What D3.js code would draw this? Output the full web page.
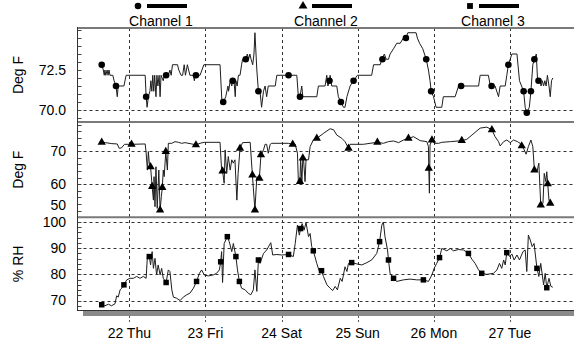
<!DOCTYPE html>
<html>
<head>
<meta charset="utf-8">
<script src="https://cdn.jsdelivr.net/npm/d3@7"></script>
<style>
  html, body { margin: 0; padding: 0; background: #fff; }
  svg { display: block; font-family: "Liberation Sans", Arial, sans-serif; }
</style>
</head>
<body>
<svg id="chart" width="574" height="345"></svg>
<script>
// Logger readings, time given in hours from 21 Oct 2009 00:00 (UTC)
const channels = ["Channel 1", "Channel 2", "Channel 3"];
const dayTicks = ["2009-10-22", "2009-10-23", "2009-10-24", "2009-10-25", "2009-10-26", "2009-10-27"];

// Channel 1: temperature, Deg F
const ch1Line = [[15.3,72.83],[15.8,72.5],[16.1,72.17],[16.3,72.5],[16.6,72.17],[17.0,72.5],[17.3,72.17],[17.6,72.5],[17.9,72.17],[18.8,72.17],[19.2,71.83],[19.8,71.5],[20.2,70.83],[20.5,71.5],[22.3,71.5],[23.0,72.17],[29.0,72.17],[29.3,70.83],[29.6,70.17],[30.0,70.83],[30.5,71.17],[30.8,71.83],[31.1,71.17],[31.4,72.17],[31.7,71.17],[32.0,72.17],[32.4,70.83],[32.7,72.17],[33.0,71.5],[33.4,72.17],[33.7,70.83],[34.0,72.17],[34.7,71.83],[35.0,72.17],[35.6,72.17],[36.3,72.17],[36.8,72.5],[37.2,72.17],[37.6,72.83],[38.4,72.83],[39.2,72.83],[39.6,72.5],[40.3,72.17],[40.8,72.17],[41.3,72.83],[41.7,72.17],[42.3,72.83],[42.7,72.5],[43.1,72.17],[44.2,72.17],[44.5,71.83],[44.8,72.17],[46.3,72.17],[47.5,72.83],[52.6,72.83],[53.2,70.5],[53.7,70.5],[54.4,70.83],[55.1,71.5],[55.3,71.17],[55.8,71.83],[56.3,71.5],[56.6,71.83],[57.0,71.83],[57.4,70.83],[57.6,71.83],[58.0,71.5],[58.4,72.17],[58.9,72.17],[59.4,72.83],[59.7,73.17],[60.7,73.17],[61.2,73.5],[61.6,73.17],[62.0,73.5],[62.4,73.17],[62.9,72.83],[63.3,73.5],[63.6,74.83],[64.2,72.5],[64.7,71.17],[65.2,71.17],[65.7,70.17],[66.3,71.17],[66.8,71.5],[67.3,70.83],[67.8,71.5],[70.0,71.5],[70.5,72.17],[76.8,72.17],[77.3,70.83],[77.8,70.83],[78.36,71.5],[78.7,70.83],[83.1,70.83],[83.6,71.5],[85.7,71.5],[86.25,72.17],[86.6,71.5],[87.1,71.83],[87.3,72.17],[87.8,71.5],[89.4,71.5],[89.9,70.83],[90.7,70.5],[91.5,70.17],[92.0,70.17],[92.6,70.83],[93.6,71.5],[94.7,71.83],[95.9,72.17],[100.4,72.17],[101.0,72.83],[103.1,72.83],[103.6,73.17],[104.4,73.5],[105.0,73.17],[105.7,73.17],[106.2,73.5],[107.3,73.83],[108.3,74.17],[109.4,74.17],[110.4,74.5],[111.2,74.5],[111.8,74.83],[114.4,74.83],[114.8,74.5],[115.5,74.17],[116.5,73.83],[117.6,73.17],[118.3,72.5],[118.8,71.83],[119.15,71.17],[119.9,70.83],[120.7,70.17],[122.5,70.17],[123.0,70.83],[126.7,70.83],[127.8,71.5],[134.1,71.5],[134.6,72.17],[137.2,72.17],[137.8,71.5],[139.3,71.5],[140.4,70.83],[140.9,71.5],[142.5,71.5],[143.0,72.17],[143.5,72.83],[144.6,73.5],[146.2,73.5],[147.0,71.83],[148.3,71.17],[148.8,70.17],[149.3,69.83],[150.1,70.17],[150.6,71.17],[151.2,72.83],[151.7,73.17],[152.3,73.5],[152.7,71.83],[153.0,71.83],[153.5,71.83],[153.8,71.5],[154.2,71.83],[154.6,71.5],[155.0,71.83],[155.4,71.5],[155.8,72.17],[156.3,71.5],[156.7,70.83],[157.1,71.83],[157.5,72.0]];
const ch1Marks = [[15.3,72.83],[19.8,71.5],[29.3,70.83],[35.6,72.17],[45.0,72.17],[53.6,70.5],[56.6,71.83],[60.7,73.17],[64.7,71.17],[74.2,72.17],[77.8,70.83],[87.1,71.83],[90.7,70.5],[94.7,71.83],[103.8,73.17],[111.2,74.5],[117.6,73.17],[119.15,71.17],[128.6,71.5],[138.2,71.5],[143.5,72.83],[148.3,71.17],[149.3,69.83],[150.6,71.17],[151.7,73.17],[153.0,71.83]];

// Channel 2: temperature, Deg F
const ch2Line = [[15.3,72.7],[16.5,72.6],[18.5,72.3],[20.2,72.2],[20.8,70.9],[21.5,71.0],[22.5,72.1],[24.7,72.1],[29.0,72.2],[29.3,69.5],[29.7,64.3],[30.0,69.9],[30.3,66.4],[30.7,65.3],[31.2,59.3],[31.6,55.2],[31.8,62.3],[32.1,53.2],[32.4,65.3],[32.8,52.7],[33.3,64.3],[33.7,52.2],[34.1,56.3],[34.4,59.0],[34.7,64.3],[35.0,62.3],[35.5,69.9],[36.0,64.3],[36.3,72.4],[37.4,72.4],[38.4,72.9],[39.5,72.7],[40.5,72.4],[41.6,72.6],[43.7,72.2],[45.0,71.9],[46.3,72.4],[47.6,72.7],[52.6,72.7],[53.1,64.3],[53.4,64.0],[53.9,60.3],[54.2,70.4],[54.7,63.3],[55.2,68.4],[55.8,64.3],[56.3,67.4],[56.8,66.4],[57.3,67.4],[57.9,55.2],[58.3,63.3],[58.9,70.9],[59.7,72.6],[62.1,72.7],[62.8,62.8],[63.6,52.2],[64.2,62.3],[65.0,61.8],[65.5,68.9],[66.3,70.4],[66.8,72.1],[67.3,72.1],[67.8,69.4],[68.4,72.1],[68.9,72.4],[74.1,72.4],[75.5,72.1],[76.3,72.1],[77.0,69.4],[77.3,60.8],[77.8,60.8],[78.0,67.9],[78.4,60.8],[78.7,67.9],[78.9,67.9],[79.4,60.8],[79.7,67.4],[80.5,67.4],[81.0,71.4],[82.0,73.4],[83.1,73.9],[85.2,75.4],[87.3,76.8],[88.4,76.5],[89.4,74.9],[91.0,73.9],[92.0,72.9],[93.1,70.9],[93.6,72.1],[97.8,72.1],[99.9,72.4],[102.2,72.7],[104.1,72.4],[105.7,72.9],[107.3,73.1],[108.9,72.6],[110.4,73.4],[112.0,73.9],[113.6,74.4],[115.7,73.2],[117.8,72.9],[118.3,71.4],[118.4,64.8],[118.6,57.3],[118.8,71.9],[119.4,73.4],[120.1,72.4],[121.5,72.4],[122.5,72.7],[125.2,72.9],[128.8,73.2],[130.4,73.6],[132.0,74.9],[133.6,76.2],[134.6,77.0],[136.7,77.3],[138.3,76.5],[139.3,74.4],[140.4,72.9],[140.9,71.6],[142.0,72.9],[143.0,73.4],[144.1,72.6],[145.1,73.4],[146.4,72.9],[147.2,72.4],[147.7,71.6],[148.5,70.4],[149.1,69.1],[149.8,71.4],[150.6,73.4],[151.2,71.4],[151.7,64.3],[152.5,63.8],[153.1,66.4],[153.7,53.7],[154.4,54.2],[154.8,63.3],[155.3,60.8],[155.6,63.8],[155.9,60.1],[156.3,55.2],[156.7,54.2]];
const ch2Marks = [[15.3,72.7],[24.7,72.1],[30.7,65.3],[31.2,59.3],[33.7,52.2],[34.4,59.0],[35.5,69.9],[45.0,71.9],[53.4,64.0],[58.9,70.9],[62.8,62.8],[63.6,52.2],[65.0,61.8],[65.5,68.9],[75.5,72.1],[77.8,60.8],[78.7,67.9],[83.1,73.9],[93.1,70.9],[102.2,72.7],[112.0,73.9],[118.4,64.8],[119.4,73.4],[128.8,73.2],[138.3,76.5],[147.7,71.6],[151.7,64.3],[153.7,53.7],[155.9,60.1],[156.7,54.2]];

// Channel 3: relative humidity, %
const ch3Line = [[15.3,68.4],[16.3,68.0],[17.4,68.6],[18.4,68.0],[19.5,68.8],[20.0,71.8],[20.5,71.3],[21.1,74.1],[21.6,74.7],[22.3,76.0],[23.2,77.9],[24.2,78.5],[25.3,78.5],[26.3,79.2],[27.4,78.5],[28.4,79.2],[29.3,78.5],[29.7,86.8],[30.3,86.8],[30.7,83.6],[31.2,88.7],[31.6,82.3],[32.1,86.1],[32.6,79.8],[33.1,83.6],[33.7,79.8],[34.2,82.3],[34.7,78.5],[35.6,76.9],[36.3,81.7],[36.8,81.1],[37.4,74.1],[37.9,71.3],[38.9,70.9],[40.0,70.0],[41.0,71.3],[42.1,72.2],[43.1,72.8],[44.2,74.7],[45.2,77.3],[46.1,80.4],[46.8,81.7],[47.6,79.8],[48.9,79.4],[50.5,79.8],[51.5,80.4],[52.4,81.7],[52.8,84.8],[53.1,88.7],[53.4,76.9],[53.9,91.8],[54.9,94.4],[55.5,92.5],[56.3,88.7],[56.8,91.8],[57.6,86.8],[58.1,81.7],[58.7,77.3],[59.4,74.7],[60.5,74.1],[61.5,72.8],[62.3,72.2],[63.1,74.1],[63.6,81.7],[64.2,73.5],[64.7,85.5],[65.2,84.2],[66.3,88.0],[67.3,89.3],[68.6,92.1],[69.2,87.4],[70.5,87.6],[72.0,87.4],[74.2,87.6],[75.7,86.8],[76.3,91.8],[77.0,98.8],[77.6,95.0],[78.0,97.5],[78.5,99.4],[79.1,96.9],[79.7,99.8],[80.5,94.4],[81.0,95.6],[81.5,90.6],[82.0,89.0],[83.1,84.2],[83.9,81.1],[84.6,81.4],[85.2,79.2],[86.3,76.0],[87.3,74.7],[88.1,73.8],[88.9,75.4],[89.6,74.1],[90.5,78.5],[91.1,77.3],[92.0,82.9],[92.6,81.1],[93.1,84.2],[94.1,84.5],[95.7,84.0],[97.3,83.6],[98.9,84.5],[100.4,85.5],[102.0,88.0],[102.9,92.5],[103.6,98.8],[104.1,100.0],[104.6,94.4],[105.4,89.3],[105.7,85.5],[106.2,80.4],[107.3,78.5],[108.3,77.3],[110.4,77.9],[112.5,78.2],[114.6,77.9],[116.7,77.9],[118.3,77.3],[119.4,79.8],[120.1,82.3],[120.9,84.2],[121.8,86.4],[122.5,89.9],[124.1,89.0],[125.2,89.9],[126.2,89.0],[127.8,89.5],[129.4,89.3],[130.9,88.0],[132.0,85.8],[133.0,84.2],[134.1,81.7],[135.1,80.4],[136.7,80.0],[138.8,80.4],[139.9,81.7],[140.7,84.2],[141.4,82.3],[142.0,85.5],[142.5,83.6],[143.0,88.3],[143.9,86.8],[144.6,87.8],[145.3,85.5],[146.2,87.4],[147.0,85.5],[148.1,88.7],[148.8,89.3],[149.3,81.1],[149.8,95.0],[150.4,93.1],[151.0,90.6],[151.6,91.8],[152.5,82.3],[153.1,79.2],[153.7,84.2],[154.6,76.0],[155.1,80.4],[155.6,74.9],[156.3,78.5],[156.9,75.4],[157.5,75.1]];
const ch3Marks = [[15.3,68.4],[22.3,76.0],[30.3,86.8],[35.6,76.9],[45.2,77.3],[52.8,84.8],[54.9,94.4],[57.6,86.8],[58.7,77.3],[64.7,85.5],[74.2,87.6],[78.0,97.5],[82.0,89.0],[84.6,81.4],[94.1,84.5],[102.9,92.5],[105.7,85.5],[107.3,78.5],[116.7,77.9],[121.8,86.4],[130.9,88.0],[135.1,80.4],[143.0,88.3],[152.5,82.3],[155.6,74.9]];

// Axis ticks per panel
const ticks1 = [70, 72.5];
const ticks2 = [50, 60, 70];
const ticks3 = [70, 80, 90, 100];
const axisTitles = ["Deg F", "Deg F", "% RH"];

const base = Date.UTC(2009, 9, 21);
const toDate = h => new Date(base + h * 3600e3);

const svg = d3.select("#chart");
const W = 574, left = 77.5;

const x = d3.scaleUtc()
  .domain([new Date(Date.UTC(2009, 9, 21, 7, 40)), new Date(Date.UTC(2009, 9, 27, 20, 11))])
  .range([left, W]);

const panels = [
  { top: 28, bottom: 122, y: d3.scaleLinear().domain([69.25, 75.125]).range([122, 28]),
    ticks: ticks1, minor: 0.5, fmt: d3.format(".1f"), grid: [70], line: ch1Line, marks: ch1Marks, sym: d3.symbolCircle, size: 34 },
  { top: 122, bottom: 217.3, y: d3.scaleLinear().domain([50, 78.85]).range([217.3, 122]),
    ticks: ticks2, minor: 2, fmt: d3.format("d"), grid: [60, 70], line: ch2Line, marks: ch2Marks, sym: d3.symbolTriangle, size: 30 },
  { top: 217.3, bottom: 310.5, y: d3.scaleLinear().domain([66.2, 101.8]).range([310.5, 217.3]),
    ticks: ticks3, minor: 2, fmt: d3.format("d"), grid: [70, 80, 90, 100], line: ch3Line, marks: ch3Marks, sym: d3.symbolSquare, size: 30 }
];

svg.append("rect").attr("width", W).attr("height", 345).attr("fill", "#fff");

// frame shadow under the plot
svg.append("rect").attr("x", 83).attr("y", 311).attr("width", W - 83).attr("height", 5).attr("fill", "#8a8a8a");

const days = dayTicks.map(d => new Date(d + "T00:00:00Z"));

// vertical day gridlines
svg.append("g").selectAll("line").data(days).join("line")
  .attr("x1", d => Math.round(x(d)) + 0.5).attr("x2", d => Math.round(x(d)) + 0.5)
  .attr("y1", 28).attr("y2", 310.5)
  .attr("stroke", "#333").attr("stroke-dasharray", "3,3");
// small ticks below the frame
svg.append("g").selectAll("line").data(days).join("line")
  .attr("x1", d => Math.round(x(d)) + 0.5).attr("x2", d => Math.round(x(d)) + 0.5)
  .attr("y1", 316).attr("y2", 322)
  .attr("stroke", "#555").attr("stroke-dasharray", "2,2");

panels.forEach((p, i) => {
  const g = svg.append("g");
  // horizontal gridlines
  g.selectAll("line.grid").data(p.grid.filter(v => Math.abs(p.y(v) - p.bottom) > 2)).join("line")
    .attr("x1", left).attr("x2", W)
    .attr("y1", v => Math.round(p.y(v)) + 0.5).attr("y2", v => Math.round(p.y(v)) + 0.5)
    .attr("stroke", "#333").attr("stroke-dasharray", "3,3");

  // inward minor ticks on the value axis
  const [d0, d1] = p.y.domain();
  const minorVals = d3.range(Math.ceil(d0 / p.minor) * p.minor, d1, p.minor);
  g.selectAll("line.mt").data(minorVals).join("line")
    .attr("x1", left).attr("x2", left + 4)
    .attr("y1", v => Math.round(p.y(v)) + 0.5).attr("y2", v => Math.round(p.y(v)) + 0.5)
    .attr("stroke", "#444");

  // tick labels; a label sitting on the panel's lower edge is lifted clear of the next panel
  g.selectAll("text.tl").data(p.ticks).join("text")
    .attr("x", 66)
    .attr("y", v => p.y(v) - (Math.abs(p.y(v) - p.bottom) < 2 ? 12 : 0))
    .attr("dy", "0.35em")
    .attr("text-anchor", "end")
    .attr("font-size", 14)
    .text(p.fmt);

  // axis title
  g.append("text")
    .attr("transform", `translate(23,${(p.top + p.bottom) / 2}) rotate(-90)`)
    .attr("text-anchor", "middle")
    .attr("font-size", 14)
    .text(axisTitles[i]);

  // series line
  const line = d3.line().x(d => x(toDate(d[0]))).y(d => p.y(d[1]));
  g.append("path").datum(p.line)
    .attr("d", line).attr("fill", "none")
    .attr("stroke", "#1e1e1e").attr("stroke-width", 1);

  // markers
  g.selectAll("path.mk").data(p.marks).join("path")
    .attr("transform", d => `translate(${x(toDate(d[0]))},${p.y(d[1])})`)
    .attr("d", d3.symbol().type(p.sym).size(p.size))
    .attr("fill", "#000");
});

// panel borders
[28, 122, 217.3].forEach(yv => {
  svg.append("line").attr("x1", left).attr("x2", W).attr("y1", yv).attr("y2", yv)
    .attr("stroke", "#7a7a7a").attr("stroke-width", 2);
});
svg.append("line").attr("x1", left).attr("x2", W).attr("y1", 310.5).attr("y2", 310.5)
  .attr("stroke", "#333").attr("stroke-width", 1);
svg.append("line").attr("x1", left).attr("x2", left).attr("y1", 27).attr("y2", 311)
  .attr("stroke", "#333").attr("stroke-width", 1);

// day labels
const fmtDay = d3.utcFormat("%d %a");
svg.append("g").selectAll("text").data(days).join("text")
  .attr("x", d => x(d)).attr("y", 337.5)
  .attr("text-anchor", "middle").attr("font-size", 14)
  .text(fmtDay);

// legend across the top
const legendX = [161, 326, 493];
const legendSyms = [d3.symbolCircle, d3.symbolTriangle, d3.symbolSquare];
channels.forEach((name, i) => {
  const c = legendX[i];
  const lg = svg.append("g");
  lg.append("path").attr("transform", `translate(${c - 23},6)`)
    .attr("d", d3.symbol().type(legendSyms[i]).size(34)).attr("fill", "#000");
  lg.append("line").attr("x1", c - 14).attr("x2", c + 26).attr("y1", 6).attr("y2", 6)
    .attr("stroke", "#000").attr("stroke-width", 4);
  lg.append("text").attr("x", c).attr("y", 26).attr("text-anchor", "middle")
    .attr("font-size", 14).text(name);
});
</script>
</body>
</html>
